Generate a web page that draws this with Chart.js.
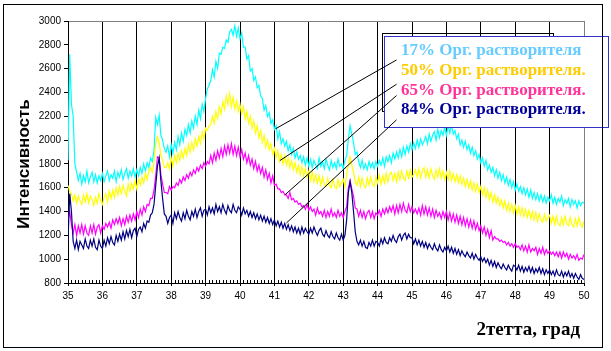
<!DOCTYPE html>
<html>
<head>
<meta charset="utf-8">
<script src="https://cdn.jsdelivr.net/npm/chart.js@4"></script>
<style>
  body { margin: 0; background: #fff; }
</style>
</head>
<body>
<canvas id="xrdChart" width="611" height="351"></canvas>
<script>
// 2theta sampling: 35..50, step 0.05
var xStart = 35;
var xStep = 0.05;

var labels17 = '17% Орг. растворителя';
var labels50 = '50% Орг. растворителя.';
var labels65 = '65% Орг. растворителя.';
var labels84 = '84% Орг. растворителя.';

var yTicks = { min: 800, max: 3000, step: 200 };
var xTicks = { min: 35, max: 50, step: 1 };

var org17 = [
    1830, 2720, 2300, 2200, 1800, 1730, 1660, 1720, 1630, 1700, 1650, 1740, 1640, 1690, 1730, 1650, 1710, 1640, 1700, 1660,
    1720, 1650, 1700, 1740, 1660, 1710, 1680, 1740, 1650, 1730, 1690, 1750, 1670, 1720, 1760, 1680, 1740, 1700, 1760, 1690,
    1750, 1700, 1770, 1720, 1800, 1740, 1810, 1770, 1850, 1820, 1910, 2190, 2130, 2210, 2040, 2000, 1930, 1900, 1950, 1860,
    1960, 1890, 1980, 1920, 2030, 1960, 2060, 1990, 2090, 2040, 2130, 2060, 2160, 2100, 2200, 2130, 2250, 2180, 2300, 2240,
    2350, 2430, 2460, 2500, 2590, 2530, 2660, 2600, 2730, 2720, 2780, 2770, 2840, 2820, 2910, 2930, 2880, 2960, 2870, 2940,
    2850, 2900, 2780, 2780, 2680, 2710, 2580, 2600, 2500, 2530, 2440, 2460, 2370, 2350, 2250, 2290, 2200, 2230, 2140, 2170,
    2090, 2120, 2010, 2070, 1970, 2010, 1950, 1990, 1910, 1960, 1880, 1930, 1850, 1900, 1840, 1870, 1810, 1860, 1790, 1850,
    1780, 1840, 1770, 1830, 1790, 1760, 1850, 1780, 1820, 1760, 1840, 1790, 1750, 1830, 1770, 1810, 1760, 1840, 1780, 1800,
    1760, 1830, 1870, 2010, 2120, 2050, 1980, 1880, 1900, 1820, 1770, 1830, 1760, 1800, 1750, 1820, 1770, 1810, 1760, 1820,
    1780, 1830, 1790, 1850, 1780, 1860, 1820, 1870, 1810, 1890, 1840, 1900, 1850, 1920, 1860, 1940, 1880, 1950, 1900, 1970,
    1920, 1980, 1930, 2000, 1940, 2010, 1960, 1990, 2030, 1970, 2050, 1990, 2040, 2070, 2000, 2090, 2020, 2080, 2040, 2110,
    2040, 2120, 2060, 2130, 2050, 2080, 2010, 2050, 1960, 2000, 1940, 1990, 1920, 1960, 1890, 1940, 1870, 1910, 1840, 1880,
    1810, 1850, 1780, 1830, 1750, 1790, 1730, 1770, 1700, 1750, 1680, 1730, 1660, 1710, 1640, 1690, 1620, 1670, 1600, 1650,
    1580, 1630, 1570, 1610, 1550, 1600, 1540, 1590, 1520, 1580, 1510, 1560, 1500, 1550, 1490, 1540, 1480, 1530, 1470, 1520,
    1490, 1540, 1470, 1520, 1460, 1510, 1480, 1530, 1450, 1500, 1470, 1510, 1440, 1500, 1460, 1490, 1430, 1490, 1450, 1480,
    1470
];

var org50 = [
    1620, 1570, 1550, 1490, 1540, 1470, 1530, 1490, 1460, 1540, 1480, 1550, 1470, 1530, 1500, 1450, 1520, 1470, 1550, 1490,
    1460, 1520, 1550, 1480, 1570, 1510, 1580, 1520, 1600, 1540, 1610, 1550, 1620, 1570, 1530, 1630, 1570, 1640, 1590, 1660,
    1590, 1670, 1620, 1690, 1640, 1720, 1670, 1740, 1770, 1730, 1810, 1970, 2030, 1980, 1870, 1830, 1770, 1770, 1810, 1760,
    1850, 1780, 1870, 1810, 1890, 1830, 1910, 1850, 1930, 1870, 1960, 1900, 1980, 1920, 2010, 1950, 2030, 1970, 2070, 2010,
    2100, 2080, 2120, 2130, 2200, 2140, 2240, 2180, 2280, 2220, 2320, 2260, 2370, 2300, 2390, 2280, 2360, 2260, 2330, 2240,
    2300, 2220, 2280, 2180, 2240, 2140, 2200, 2100, 2160, 2060, 2120, 2020, 2080, 1980, 2040, 1940, 2000, 1920, 1970, 1880,
    1930, 1850, 1910, 1820, 1880, 1800, 1870, 1790, 1850, 1770, 1830, 1750, 1810, 1730, 1790, 1710, 1780, 1700, 1760, 1690,
    1740, 1660, 1730, 1650, 1710, 1640, 1700, 1620, 1690, 1630, 1610, 1680, 1620, 1600, 1670, 1610, 1590, 1670, 1610, 1640,
    1670, 1610, 1710, 1790, 1860, 1790, 1730, 1650, 1620, 1690, 1610, 1680, 1620, 1600, 1680, 1620, 1690, 1630, 1610, 1690,
    1640, 1710, 1630, 1700, 1640, 1720, 1650, 1710, 1730, 1660, 1720, 1650, 1730, 1670, 1740, 1680, 1660, 1740, 1680, 1750,
    1690, 1710, 1750, 1690, 1760, 1680, 1740, 1770, 1690, 1750, 1680, 1760, 1700, 1670, 1750, 1690, 1760, 1680, 1740, 1670,
    1730, 1670, 1740, 1660, 1720, 1650, 1710, 1640, 1700, 1630, 1680, 1610, 1670, 1600, 1660, 1580, 1640, 1570, 1630, 1560,
    1610, 1540, 1600, 1520, 1580, 1500, 1560, 1480, 1540, 1470, 1520, 1450, 1500, 1430, 1490, 1410, 1470, 1400, 1460, 1390,
    1450, 1380, 1440, 1370, 1430, 1360, 1420, 1350, 1410, 1340, 1400, 1330, 1390, 1320, 1380, 1330, 1310, 1380, 1320, 1350,
    1370, 1300, 1360, 1290, 1360, 1300, 1280, 1350, 1290, 1360, 1300, 1280, 1350, 1290, 1270, 1340, 1280, 1350, 1290, 1270,
    1320
];

var org65 = [
    1330, 1400, 1290, 1220, 1290, 1200, 1280, 1220, 1290, 1210, 1280, 1220, 1200, 1280, 1220, 1290, 1210, 1270, 1290, 1220,
    1280, 1250, 1300, 1270, 1310, 1260, 1330, 1290, 1340, 1300, 1350, 1280, 1340, 1290, 1360, 1310, 1370, 1320, 1380, 1330,
    1400, 1350, 1420, 1370, 1440, 1400, 1460, 1450, 1510, 1510, 1580, 1700, 1860, 1850, 1710, 1630, 1560, 1560, 1550, 1610,
    1580, 1610, 1600, 1640, 1620, 1670, 1640, 1690, 1660, 1710, 1680, 1730, 1700, 1750, 1720, 1770, 1740, 1790, 1760, 1810,
    1780, 1820, 1800, 1870, 1810, 1890, 1830, 1910, 1850, 1930, 1860, 1950, 1880, 1960, 1890, 1970, 1880, 1950, 1870, 1940,
    1860, 1920, 1840, 1890, 1810, 1870, 1790, 1840, 1760, 1820, 1740, 1790, 1720, 1770, 1690, 1750, 1670, 1720, 1640, 1700,
    1620, 1630, 1590, 1590, 1560, 1570, 1540, 1540, 1510, 1560, 1500, 1510, 1480, 1490, 1460, 1470, 1440, 1450, 1420, 1460,
    1410, 1440, 1400, 1420, 1370, 1430, 1380, 1400, 1360, 1410, 1350, 1400, 1360, 1420, 1360, 1390, 1350, 1410, 1360, 1390,
    1350, 1400, 1440, 1600, 1660, 1590, 1530, 1430, 1420, 1360, 1410, 1350, 1400, 1340, 1390, 1410, 1350, 1400, 1340, 1390,
    1370, 1410, 1360, 1420, 1380, 1430, 1390, 1440, 1400, 1450, 1380, 1450, 1390, 1460, 1400, 1470, 1410, 1390, 1460, 1400,
    1440, 1390, 1420, 1380, 1430, 1370, 1450, 1380, 1440, 1370, 1430, 1360, 1420, 1350, 1410, 1360, 1390, 1340, 1400, 1350,
    1400, 1330, 1390, 1320, 1380, 1310, 1370, 1300, 1360, 1290, 1350, 1280, 1340, 1270, 1330, 1260, 1320, 1250, 1300, 1240,
    1280, 1220, 1270, 1200, 1250, 1180, 1240, 1160, 1190, 1170, 1170, 1150, 1160, 1140, 1150, 1120, 1140, 1110, 1130, 1100,
    1130, 1100, 1110, 1080, 1120, 1070, 1110, 1060, 1120, 1060, 1090, 1070, 1100, 1040, 1090, 1050, 1100, 1040, 1080, 1050,
    1070, 1040, 1060, 1030, 1060, 1020, 1060, 1010, 1060, 1020, 1050, 1000, 1040, 1010, 1030, 1000, 1040, 990, 1010, 1000,
    1040
];

var org84 = [
    1150, 1550, 1400, 1150, 1090, 1160, 1080, 1150, 1120, 1090, 1170, 1110, 1090, 1160, 1110, 1170, 1100, 1080, 1160, 1110,
    1090, 1160, 1110, 1180, 1130, 1190, 1140, 1120, 1200, 1150, 1210, 1160, 1230, 1170, 1240, 1190, 1250, 1180, 1240, 1260,
    1190, 1250, 1270, 1230, 1300, 1260, 1320, 1310, 1370, 1390, 1460, 1620, 1780, 1850, 1660, 1510, 1380, 1360, 1300, 1350,
    1370, 1300, 1390, 1340, 1400, 1350, 1320, 1390, 1340, 1410, 1360, 1330, 1400, 1360, 1420, 1350, 1400, 1430, 1360, 1410,
    1420, 1370, 1440, 1390, 1430, 1380, 1460, 1400, 1440, 1390, 1460, 1410, 1380, 1450, 1410, 1390, 1460, 1410, 1390, 1440,
    1420, 1370, 1430, 1380, 1410, 1360, 1400, 1350, 1390, 1340, 1380, 1330, 1370, 1320, 1360, 1310, 1350, 1300, 1340, 1290,
    1330, 1280, 1320, 1270, 1310, 1260, 1300, 1250, 1290, 1240, 1280, 1230, 1270, 1220, 1260, 1210, 1270, 1220, 1260, 1230,
    1210, 1260, 1220, 1270, 1230, 1200, 1240, 1260, 1210, 1190, 1240, 1200, 1180, 1230, 1190, 1170, 1220, 1180, 1160, 1210,
    1160, 1200, 1330, 1560, 1650, 1560, 1400, 1230, 1150, 1120, 1160, 1110, 1150, 1100, 1090, 1140, 1110, 1160, 1110, 1150,
    1140, 1110, 1170, 1130, 1180, 1140, 1130, 1180, 1150, 1200, 1160, 1140, 1190, 1210, 1160, 1200, 1220, 1170, 1210, 1180,
    1180, 1130, 1170, 1120, 1160, 1110, 1150, 1100, 1140, 1090, 1130, 1100, 1080, 1130, 1090, 1070, 1120, 1080, 1060, 1100,
    1070, 1110, 1060, 1100, 1050, 1090, 1040, 1080, 1030, 1070, 1040, 1020, 1060, 1030, 1010, 1050, 1000, 1040, 1010, 990,
    1020, 980, 1010, 970, 1000, 950, 990, 940, 980, 930, 970, 940, 920, 960, 930, 910, 950, 920, 900, 950,
    940, 910, 950, 900, 940, 890, 930, 900, 940, 890, 930, 880, 920, 890, 930, 880, 920, 870, 910, 880,
    910, 870, 900, 860, 910, 870, 860, 900, 850, 890, 860, 900, 850, 880, 840, 880, 850, 830, 870, 840,
    830
];

// callout lines: [legend end, curve end] in data units
var callouts = [
    [44.55, 2673, 41.03, 2094],
    [44.55, 2469, 41.16, 1828],
    [44.55, 2374, 41.31, 1541],
    [44.55, 2170, 41.35, 1304]
];

function toPoints(arr) {
    return arr.map(function (v, i) {
        return { x: xStart + i * xStep, y: v };
    });
}

var extras = {
    id: 'extras',
    afterDraw: function (chart) {
        var c = chart.ctx;
        var xs = chart.scales.x;
        var ys = chart.scales.y;
        c.save();

        // minor ticks on the x axis
        c.strokeStyle = '#000';
        c.lineWidth = 1;
        c.beginPath();
        for (var k = 1; k < 150; k++) {
            if (k % 10 == 0) continue;
            var px = Math.round(xs.getPixelForValue(35 + k / 10)) + 0.5;
            c.moveTo(px, ys.bottom);
            c.lineTo(px, ys.bottom - 3);
        }
        c.stroke();

        // legend
        c.strokeStyle = '#000';
        c.strokeRect(382.5, 33.5, 171, 78);
        c.fillStyle = '#fff';
        c.fillRect(384, 36, 225, 92);
        c.strokeStyle = '#3333cc';
        c.strokeRect(384.5, 36.5, 224, 91);

        c.font = 'bold 17px "Liberation Serif"';
        c.textBaseline = 'middle';
        c.textAlign = 'left';
        var rows = [
            [labels17, '#66ccff', 51],
            [labels50, '#ffcc00', 71],
            [labels65, '#ff3399', 90.5],
            [labels84, '#000099', 110]
        ];
        for (var r = 0; r < rows.length; r++) {
            c.fillStyle = rows[r][1];
            c.fillText(rows[r][0], 401, rows[r][2]);
        }

        c.strokeStyle = '#000';
        c.beginPath();
        for (var j = 0; j < callouts.length; j++) {
            var l = callouts[j];
            c.moveTo(xs.getPixelForValue(l[0]), ys.getPixelForValue(l[1]));
            c.lineTo(xs.getPixelForValue(l[2]), ys.getPixelForValue(l[3]));
        }
        c.stroke();

        // axis titles
        c.fillStyle = '#000';
        c.font = 'bold 19px "Liberation Serif"';
        c.textAlign = 'right';
        c.fillText('2тетта, град', 580, 330);

        c.save();
        c.translate(24, 164);
        c.rotate(-Math.PI / 2);
        c.font = 'bold 17px "Liberation Sans"';
        c.textAlign = 'center';
        c.fillText('Интенсивность', 0, 0);
        c.restore();

        // outer frame
        c.strokeStyle = '#000';
        c.strokeRect(3.5, 4.5, 599, 343);
        c.restore();
    }
};

var ctx_ = document.getElementById('xrdChart').getContext('2d');
var xrdChart = new Chart(ctx_, {
    type: 'line',
    data: {
        datasets: [
            { label: labels17, data: toPoints(org17), borderColor: '#00ffff', order: 4 },
            { label: labels50, data: toPoints(org50), borderColor: '#ffff00', order: 3 },
            { label: labels65, data: toPoints(org65), borderColor: '#ff00ff', order: 2 },
            { label: labels84, data: toPoints(org84), borderColor: '#000080', order: 1 }
        ]
    },
    options: {
        responsive: false,
        animation: false,
        events: [],
        layout: { padding: { top: 21, right: 27, left: 0, bottom: 0 } },
        plugins: {
            legend: { display: false },
            tooltip: { enabled: false }
        },
        elements: {
            point: { radius: 0 },
            line: { borderWidth: 1.2, tension: 0, fill: false }
        },
        scales: {
            x: {
                type: 'linear',
                min: xTicks.min,
                max: xTicks.max,
                afterFit: function (s) { s.height = 68; },
                ticks: {
                    stepSize: xTicks.step,
                    color: '#000',
                    padding: 4,
                    maxRotation: 0,
                    font: { family: 'Liberation Sans', size: 10 },
                    callback: function (v) { return v; }
                },
                grid: {
                    color: function (c) { return c.tick && c.tick.value == 50 ? '#808080' : '#000'; },
                    tickColor: '#000',
                    tickLength: 3
                },
                border: { color: '#000' }
            },
            y: {
                min: yTicks.min,
                max: yTicks.max,
                afterFit: function (s) { s.width = 68; },
                ticks: {
                    stepSize: yTicks.step,
                    color: '#000',
                    padding: 3,
                    font: { family: 'Liberation Sans', size: 10 },
                    callback: function (v) { return v; }
                },
                grid: {
                    color: function (c) { return c.tick && c.tick.value == 3000 ? '#808080' : 'rgba(0,0,0,0)'; },
                    tickColor: '#000',
                    tickLength: 4
                },
                border: { color: '#000' }
            }
        }
    },
    plugins: [extras]
});
</script>
</body>
</html>
